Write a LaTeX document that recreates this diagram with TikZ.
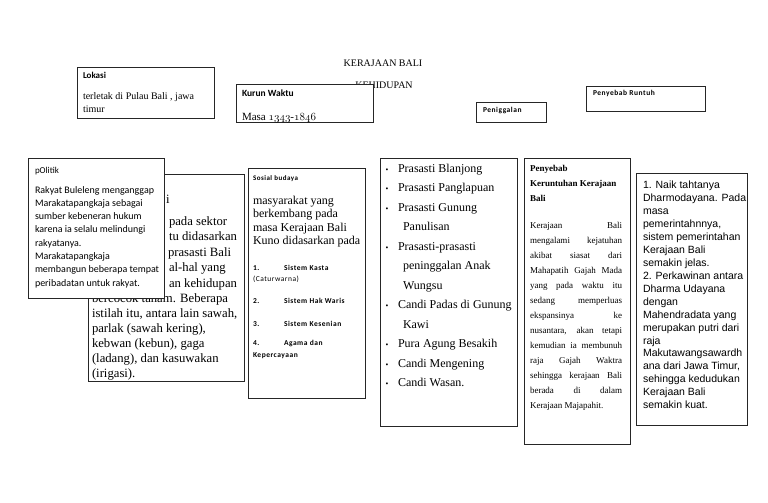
\documentclass[tikz,border=0pt]{standalone}
\usepackage{fontspec}
\setmainfont{Liberation Serif}
\newfontfamily\calf{Carlito}
\newfontfamily\calsp{Carlito}[LetterSpace=7]
\newfontfamily\arif{Liberation Sans}
\newcommand\osnum{\usefont{OML}{cmm}{m}{it}}
\tikzset{
  boxst/.style={draw=black!85, line width=0.9pt, fill=white, anchor=north west, inner sep=0pt},
  txt/.style={anchor=base west, inner sep=0pt, outer sep=0pt},
  ctxt/.style={anchor=base, inner sep=0pt, outer sep=0pt},
  ekof/.style={font=\fontsize{12.7}{15.5}\selectfont},
  prasf/.style={font=\fontsize{12}{14}\selectfont},
  smallh/.style={font=\calsp\bfseries\fontsize{7.5}{9}\selectfont},
}
\begin{document}
\begin{tikzpicture}[x=1pt,y=-1pt]
\useasboundingbox[fill=white] (0,0) rectangle (768,503);

% title
\node[ctxt] (t1) at (383,66.5) {\fontsize{10}{12}\selectfont KERAJAAN BALI};
\node[ctxt] (t2) at (384,88.5) {\fontsize{10}{12}\selectfont KEHIDUPAN};

% Lokasi
\node[boxst, minimum width=137pt, minimum height=51pt] (lokb) at (77,67) {};
\node[txt] (lokh) at (83,78) {\calf\bfseries\fontsize{9}{11}\selectfont Lokasi};
\node[txt] (lokt) at (83,99.5) {\parbox[t]{128pt}{\raggedright\fontsize{10}{13.3}\selectfont terletak di Pulau Bali , jawa\\ timur}};

% Kurun Waktu
\node[boxst, minimum width=137pt, minimum height=38pt] (kurb) at (236,84) {};
\node[txt] (kurh) at (242,96) {\calf\bfseries\fontsize{9.5}{11}\selectfont Kurun Waktu};
\node[txt] (kurt) at (242,120) {\fontsize{11}{13}\selectfont Masa {\osnum 1343}-{\osnum 1846}};

% Peniggalan
\node[boxst, minimum width=70pt, minimum height=20pt] (penb) at (476,102) {};
\node[txt, smallh] (penh) at (483,112.5) {Peniggalan};

% Penyebab Runtuh
\node[boxst, minimum width=119pt, minimum height=25pt] (runb) at (586,86) {};
\node[txt, smallh] (runh) at (593,95.5) {Penyebab Runtuh};

% Ekonomi (behind politik)
\node[boxst, minimum width=156pt, minimum height=207pt] (ekob) at (88,174) {};
\node[txt, ekof] (e1) at (166,203) {i};
\node[txt, ekof] (e2) at (169,225) {pada sektor};
\node[txt, ekof] (e3) at (169,240.5) {tu didasarkan};
\node[txt, ekof] (e4) at (168,256) {prasasti Bali};
\node[txt, ekof] (e5) at (169,271.5) {al-hal yang};
\node[txt, ekof] (e6) at (169,287) {an kehidupan};
\node[txt, ekof] (e7) at (92,302) {bercocok tanam. Beberapa};
\node[txt, ekof] (e8) at (92,317) {istilah itu, antara lain sawah,};
\node[txt, ekof] (e9) at (92,332) {parlak (sawah kering),};
\node[txt, ekof] (e10) at (92,347.5) {kebwan (kebun), gaga};
\node[txt, ekof] (e11) at (92,362.5) {(ladang), dan kasuwakan};
\node[txt, ekof] (e12) at (92,377.5) {(irigasi).};

% Politik
\node[boxst, minimum width=136pt, minimum height=140pt] (polb) at (28,158) {};
\node[txt] (polh) at (35,173) {\calf\fontsize{9}{11}\selectfont pOlitik};
\node[txt] (polt) at (35,193) {\parbox[t]{128pt}{\raggedright\calf\fontsize{10}{13.3}\selectfont
Rakyat Buleleng menganggap\\
Marakatapangkaja sebagai\\
sumber kebeneran hukum\\
karena ia selalu melindungi\\
rakyatanya.\\
Marakatapangkaja\\
membangun beberapa tempat\\
peribadatan untuk rakyat.}};

% Sosial budaya
\node[boxst, minimum width=117pt, minimum height=230pt] (sosb) at (248,168) {};
\node[txt] (sosh) at (253,180) {\calsp\bfseries\fontsize{7}{9}\selectfont Sosial budaya};
\node[txt] (sost) at (253,204.5) {\parbox[t]{110pt}{\raggedright\fontsize{12}{13.4}\selectfont
masyarakat yang\\ berkembang pada\\ masa Kerajaan Bali\\ Kuno didasarkan pada}};
\node[txt, smallh] (s1n) at (253,270) {1.};
\node[txt, smallh] (s1t) at (284,270) {Sistem Kasta};
\node[txt] (s1b) at (253,281.5) {\calsp\fontsize{7.5}{9}\selectfont (Caturwarna)};
\node[txt, smallh] (s2n) at (253,303) {2.};
\node[txt, smallh] (s2t) at (284,303) {Sistem Hak Waris};
\node[txt, smallh] (s3n) at (253,326) {3.};
\node[txt, smallh] (s3t) at (284,326) {Sistem Kesenian};
\node[txt, smallh] (s4n) at (253,345) {4.};
\node[txt, smallh] (s4t) at (284,345) {Agama dan};
\node[txt, smallh] (s4b) at (253,357.5) {Kepercayaan};

% Prasasti list
\node[boxst, minimum width=137pt, minimum height=268pt] (prab) at (380,158) {};
\foreach \nm/\yy in {b1/172, b2/191.5, b3/211, b5/250, b8/308.5, b10/347.5, b11/367, b12/386.5}
  \node[ctxt, font=\fontsize{8}{9}\selectfont] (\nm) at (387,\yy) {•};
\node[txt, prasf] (p1) at (398,172) {Prasasti Blanjong};
\node[txt, prasf] (p2) at (398,191.5) {Prasasti Panglapuan};
\node[txt, prasf] (p3) at (398,211) {Prasasti Gunung};
\node[txt, prasf] (p4) at (403,230.5) {Panulisan};
\node[txt, prasf] (p5) at (398,250) {Prasasti-prasasti};
\node[txt, prasf] (p6) at (403,269.5) {peninggalan Anak};
\node[txt, prasf] (p7) at (403,289) {Wungsu};
\node[txt, prasf] (p8) at (398,308.5) {Candi Padas di Gunung};
\node[txt, prasf] (p9) at (403,328) {Kawi};
\node[txt, prasf] (p10) at (398,347.5) {Pura Agung Besakih};
\node[txt, prasf] (p11) at (398,367) {Candi Mengening};
\node[txt, prasf] (p12) at (398,386.5) {Candi Wasan.};

% Penyebab keruntuhan
\node[boxst, minimum width=106pt, minimum height=286pt] (kerb) at (524,158) {};
\node[txt] (kerh) at (530,171) {\parbox[t]{98pt}{\raggedright\bfseries\fontsize{9}{15}\selectfont
Penyebab\\ Keruntuhan Kerajaan\\ Bali}};
\node[txt] (kert) at (530,228) {\parbox[t]{92pt}{\fontsize{9}{15}\selectfont
\makebox[92pt][s]{Kerajaan Bali}\\
\makebox[92pt][s]{mengalami kejatuhan}\\
\makebox[92pt][s]{akibat siasat dari}\\
\makebox[92pt][s]{Mahapatih Gajah Mada}\\
\makebox[92pt][s]{yang pada waktu itu}\\
\makebox[92pt][s]{sedang memperluas}\\
\makebox[92pt][s]{ekspansinya ke}\\
\makebox[92pt][s]{nusantara, akan tetapi}\\
\makebox[92pt][s]{kemudian ia membunuh}\\
\makebox[92pt][s]{raja Gajah Waktra}\\
\makebox[92pt][s]{sehingga kerajaan Bali}\\
\makebox[92pt][s]{berada di dalam}\\
Kerajaan Majapahit.}};

% right box
\node[boxst, minimum width=111pt, minimum height=252pt] (rigb) at (636,173) {};
\node[txt] (rigt) at (643,188.5) {\parbox[t]{104pt}{\raggedright\arif\fontsize{10.5}{12.96}\selectfont
1. Naik tahtanya\\
Dharmodayana. Pada\\
masa\\
pemerintahnnya,\\
sistem pemerintahan\\
Kerajaan Bali\\
semakin jelas.\\
2. Perkawinan antara\\
Dharma Udayana\\
dengan\\
Mahendradata yang\\
merupakan putri dari\\
raja\\
Makutawangsawardh\\
ana dari Jawa Timur,\\
sehingga kedudukan\\
Kerajaan Bali\\
semakin kuat.}};

\end{tikzpicture}
\end{document}
